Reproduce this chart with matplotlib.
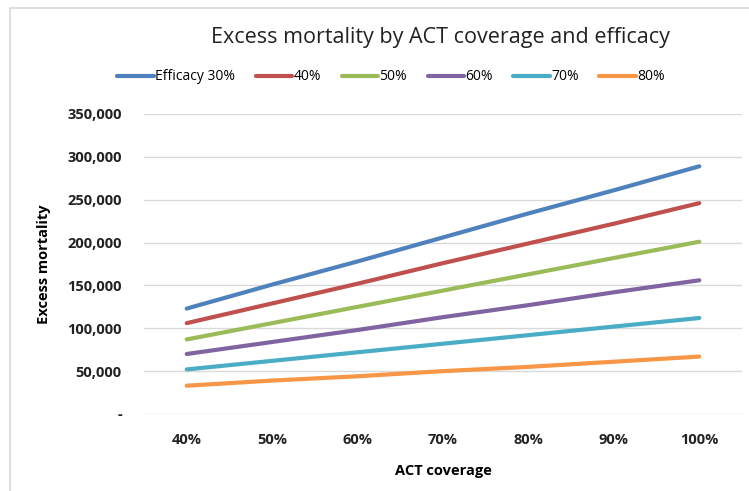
import matplotlib.pyplot as plt
from matplotlib.patches import Rectangle
from matplotlib.ticker import FuncFormatter

# ACT coverage categories (x axis)
coverage = ["40%", "50%", "60%", "70%", "80%", "90%", "100%"]

# excess mortality per efficacy level
eff_30 = [123000, 151000, 178000, 206000, 234000, 261000, 289000]
eff_40 = [106000, 129000, 152000, 176000, 199000, 222000, 246000]
eff_50 = [87000, 106000, 125000, 144000, 163000, 182000, 201000]
eff_60 = [70000, 84000, 98000, 113000, 127000, 142000, 156000]
eff_70 = [52000, 62000, 72000, 82000, 92000, 102000, 112000]
eff_80 = [33000, 39000, 44000, 50000, 55000, 61000, 67000]

series_labels = ["Efficacy 30%", "40%", "50%", "60%", "70%", "80%"]
y_ticks = [0, 50000, 100000, 150000, 200000, 250000, 300000, 350000]

colors = ["#4F81BD", "#C0504D", "#9BBB59", "#8064A2", "#4BACC6", "#F79646"]

plt.rcParams['font.family'] = ['Open Sans', 'DejaVu Sans']

fig = plt.figure(figsize=(7.49, 4.91), dpi=100)
W, H = 749, 491

# chart frame like the excel chart border
fig.patches.append(Rectangle((10 / W, -0.05), 1.0, (H - 8) / H + 0.05,
                             transform=fig.transFigure, fill=False,
                             edgecolor="#D9D9D9", linewidth=1.2))

ax = fig.add_axes([144 / W, (H - 414) / H, 598 / W, 300 / H])

x = list(range(len(coverage)))
all_series = [eff_30, eff_40, eff_50, eff_60, eff_70, eff_80]
for vals, lab, col in zip(all_series, series_labels, colors):
    ax.plot(x, vals, color=col, linewidth=3, label=lab, solid_capstyle="round")

ax.set_xlim(-0.5, len(coverage) - 0.5)
ax.set_ylim(0, 350000)
ax.set_xticks(x)
ax.set_xticklabels(coverage)
ax.set_yticks(y_ticks)
ax.yaxis.set_major_formatter(FuncFormatter(lambda v, p: "-" if v == 0 else f"{v:,.0f}"))

ax.grid(axis="y", color="#D9D9D9", linewidth=1)
ax.set_axisbelow(True)
for s in ax.spines.values():
    s.set_visible(False)
ax.tick_params(length=0, labelsize=10.5, colors="#222222")
ax.tick_params(axis="y", pad=16)
ax.tick_params(axis="x", pad=14)
for t in ax.get_xticklabels() + ax.get_yticklabels():
    t.set_fontweight("bold")

ax.set_xlabel("ACT coverage", fontsize=10.5, fontweight="bold", labelpad=12)
ax.set_ylabel("Excess mortality", fontsize=10.5, fontweight="bold", labelpad=12)

fig.text(440 / W, 1 - 38 / H, "Excess mortality by ACT coverage and efficacy",
         ha="center", va="center", fontsize=15.5, color="#222222")

fig.legend(loc="center", bbox_to_anchor=(391 / W, 1 - 77 / H), ncol=6,
           frameon=False, fontsize=10, handlelength=2.6, handletextpad=0.1,
           columnspacing=1.5)

fig.savefig("out.png", dpi=100)
